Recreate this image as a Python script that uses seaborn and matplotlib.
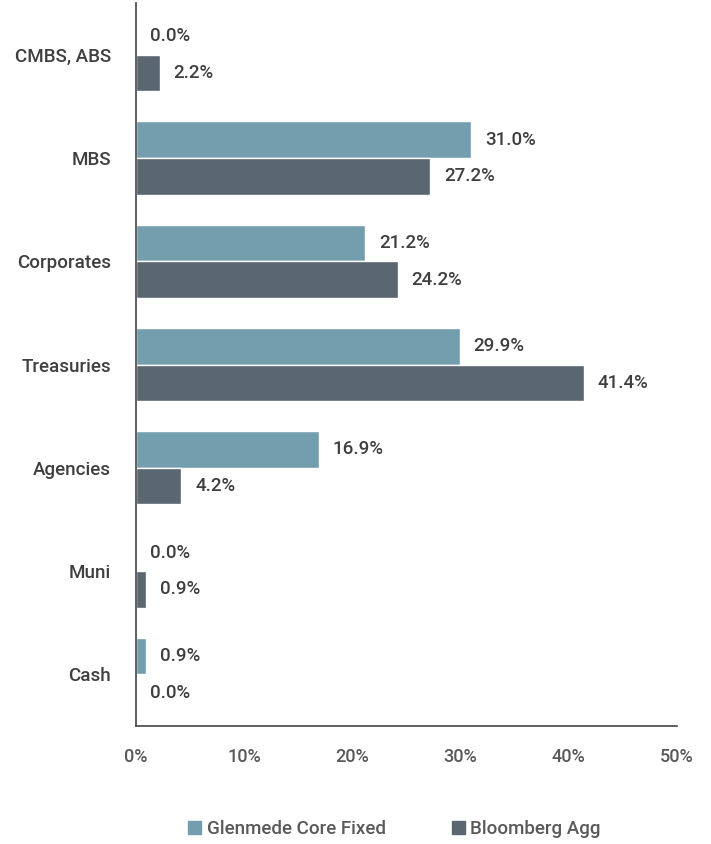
import numpy as np
import pandas as pd
import seaborn as sns
import matplotlib.pyplot as plt
from matplotlib.ticker import PercentFormatter

categories = ['CMBS, ABS', 'MBS', 'Corporates', 'Treasuries', 'Agencies', 'Muni', 'Cash']
glenmede = [0.0, 31.0, 21.2, 29.9, 16.9, 0.0, 0.9]
bloomberg = [2.2, 27.2, 24.2, 41.4, 4.2, 0.9, 0.0]
series_names = ['Glenmede Core Fixed', 'Bloomberg Agg']
colors = ['#739eae', '#5a6670']

df = pd.DataFrame({
    'category': categories * 2,
    'value': glenmede + bloomberg,
    'series': [series_names[0]] * len(categories) + [series_names[1]] * len(categories),
})

sns.set_style('white')
plt.rcParams['font.family'] = ['Roboto', 'DejaVu Sans']
plt.rcParams['font.weight'] = 'medium'

fig = plt.figure(figsize=(7.11, 8.44), dpi=100)
ax = fig.add_axes([0.1913, 0.1398, 0.7609, 0.8566])

sns.barplot(data=df, x='value', y='category', hue='series', orient='h',
            palette=colors, width=0.71, saturation=1, ax=ax, legend=False)

for cont in ax.containers:
    ax.bar_label(cont, labels=[f'{v:.1f}%' for v in cont.datavalues],
                 padding=10, fontsize=13.5, color='#3f3f3f', fontweight='medium')

ax.set_xlim(0, 50)
ax.set_ylim(6.5, -0.5)
ax.set_xticks(np.arange(0, 51, 10))
ax.xaxis.set_major_formatter(PercentFormatter(decimals=0))
ax.set_xlabel('')
ax.set_ylabel('')
ax.tick_params(axis='x', direction='in', length=6, width=1.2, color='#444444',
               labelsize=13, labelcolor='#595959', pad=16)
ax.tick_params(axis='y', length=0, labelsize=13.5, labelcolor='#3f3f3f', pad=18)

for s in ['top', 'right']:
    ax.spines[s].set_visible(False)
for s in ['left', 'bottom']:
    ax.spines[s].set_color('#444444')
    ax.spines[s].set_linewidth(1.2)

handles = [plt.Rectangle((0, 0), 1, 1, color=c) for c in colors]
fig.legend(handles, series_names, loc='center', bbox_to_anchor=(0.555, 0.018),
           ncol=2, frameon=False, prop={'size': 13.5, 'weight': 'medium'},
           handlelength=0.7, handleheight=0.7,
           handletextpad=0.3, columnspacing=3.5, labelcolor='#595959')

fig.savefig('out.png', dpi=100)
